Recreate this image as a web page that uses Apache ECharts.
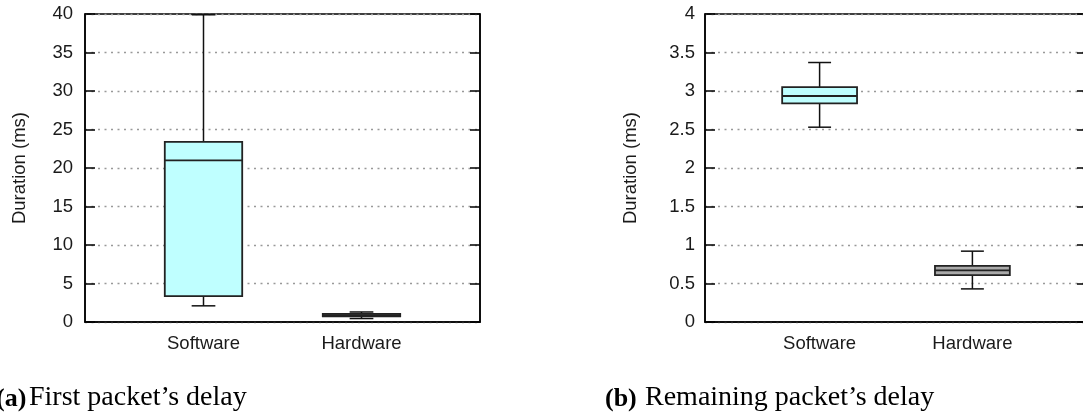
<!DOCTYPE html>
<html>
<head>
<meta charset="utf-8">
<script src="https://cdn.jsdelivr.net/npm/echarts@6/dist/echarts.min.js"></script>
<style>
  html, body { margin: 0; padding: 0; background: #fff; }
  #chart { width: 1083px; height: 419px; }
</style>
</head>
<body>
<div id="chart"></div>
<script>
// ---- data ----
const categories = ['Software', 'Hardware'];
// [min, Q1, median, Q3, max]
const firstSoftware = [2.1, 3.35, 21.0, 23.4, 39.9];
const firstHardware = [0.45, 0.75, 0.9, 1.05, 1.3];
const remainSoftware = [2.53, 2.84, 2.935, 3.05, 3.37];
const remainHardware = [0.43, 0.61, 0.67, 0.73, 0.92];
const firstYTicks = [0, 5, 10, 15, 20, 25, 30, 35, 40];
const remainYTicks = [0, 0.5, 1, 1.5, 2, 2.5, 3, 3.5, 4];
const yAxisTitle = 'Duration (ms)';
const captionA = ['(a)', 'First packet\u2019s delay'];
const captionB = ['(b)', 'Remaining packet\u2019s delay'];

// ---- styles ----
const boxFills = ['#bfffff', '#aaaaaa'];
const sans = '"Liberation Sans", Arial, sans-serif';
const serif = '"Liberation Serif", "Times New Roman", serif';

function renderBox(params, api) {
  const x = api.value(0);
  const pMin = api.coord([x, api.value(1)]);
  const pQ1 = api.coord([x, api.value(2)]);
  const pMed = api.coord([x, api.value(3)]);
  const pQ3 = api.coord([x, api.value(4)]);
  const pMax = api.coord([x, api.value(5)]);
  const halfW = api.size([0.49, 0])[0] / 2;
  const capHalf = api.size([0.15, 0])[0] / 2;
  const cx = pMed[0];
  const line = { stroke: '#111', lineWidth: 1.5 };
  return {
    type: 'group',
    children: [
      { type: 'line', shape: { x1: cx, y1: pMin[1], x2: cx, y2: pQ1[1] }, style: line },
      { type: 'line', shape: { x1: cx, y1: pQ3[1], x2: cx, y2: pMax[1] }, style: line },
      { type: 'line', shape: { x1: cx - capHalf, y1: pMin[1], x2: cx + capHalf, y2: pMin[1] }, style: line },
      { type: 'line', shape: { x1: cx - capHalf, y1: pMax[1], x2: cx + capHalf, y2: pMax[1] }, style: line },
      { type: 'rect', shape: { x: cx - halfW, y: pQ3[1], width: 2 * halfW, height: pQ1[1] - pQ3[1] },
        style: { fill: boxFills[params.dataIndex], stroke: '#222', lineWidth: 1.8 } },
      { type: 'line', shape: { x1: cx - halfW, y1: pMed[1], x2: cx + halfW, y2: pMed[1] },
        style: { stroke: '#222', lineWidth: 1.8 } }
    ]
  };
}

function makeX(gridIndex) {
  return {
    type: 'value', gridIndex: gridIndex,
    min: 0.25, max: 2.75, interval: 0.25,
    axisLine: { show: true, lineStyle: { color: '#000', width: 1.5 } },
    axisTick: { show: false },
    splitLine: { show: false },
    axisLabel: {
      margin: 12, fontFamily: sans, fontSize: 18.5, color: '#1a1a1a',
      formatter: function (v) {
        const i = Math.round(v) - 1;
        return (Math.abs(v - Math.round(v)) < 1e-9 && i >= 0 && i < categories.length) ? categories[i] : '';
      }
    }
  };
}

function makeY(gridIndex, ticks, labelMargin, nameGap) {
  const interval = ticks[1] - ticks[0];
  return [{
    type: 'value', gridIndex: gridIndex, position: 'left',
    min: ticks[0], max: ticks[ticks.length - 1], interval: interval,
    name: yAxisTitle, nameLocation: 'middle', nameGap: nameGap, nameRotate: 90,
    nameTextStyle: { fontFamily: sans, fontSize: 18.5, color: '#1a1a1a' },
    axisLine: { show: true, lineStyle: { color: '#000', width: 1.5 } },
    axisTick: { show: true, inside: true, length: 10, lineStyle: { color: '#000', width: 1.5 } },
    axisLabel: { margin: labelMargin, fontFamily: sans, fontSize: 18.5, color: '#1a1a1a' },
    splitLine: { show: true, lineStyle: { color: '#999', width: 1.3, type: [2, 4.5] } }
  }, {
    type: 'value', gridIndex: gridIndex, position: 'right',
    min: ticks[0], max: ticks[ticks.length - 1], interval: interval,
    axisLine: { show: true, lineStyle: { color: '#000', width: 1.5 } },
    axisTick: { show: true, inside: true, length: 10, lineStyle: { color: '#000', width: 1.5 } },
    axisLabel: { show: false },
    splitLine: { show: false }
  }];
}

const chart = echarts.init(document.getElementById('chart'), null, { renderer: 'canvas' });

const yAxes = makeY(0, firstYTicks, 12, 56).concat(makeY(1, remainYTicks, 10, 65));

function caption(x, gap, parts) {
  return [
    { type: 'text', left: x, top: 386,
      style: { text: parts[0], font: 'bold 26px ' + serif, fill: '#000' } },
    { type: 'text', left: x + gap, top: 384,
      style: { text: parts[1], font: '28px ' + serif, fill: '#000' } }
  ];
}

chart.setOption({
  animation: false,
  backgroundColor: '#fff',
  grid: [
    { left: 85, top: 14, width: 395, height: 308, show: true, borderColor: '#000', borderWidth: 1.5,
      outerBoundsMode: 'none' },
    { left: 705, top: 14, width: 382, height: 308, show: true, borderColor: '#000', borderWidth: 1.5,
      outerBoundsMode: 'none' }
  ],
  xAxis: [makeX(0), makeX(1)],
  yAxis: yAxes,
  series: [
    { type: 'custom', xAxisIndex: 0, yAxisIndex: 0, renderItem: renderBox,
      data: [[1].concat(firstSoftware), [2].concat(firstHardware)] },
    { type: 'custom', xAxisIndex: 1, yAxisIndex: 2, renderItem: renderBox,
      data: [[1].concat(remainSoftware), [2].concat(remainHardware)] }
  ],
  graphic: caption(-4, 33, captionA).concat(caption(605, 40, captionB))
});
</script>
</body>
</html>
